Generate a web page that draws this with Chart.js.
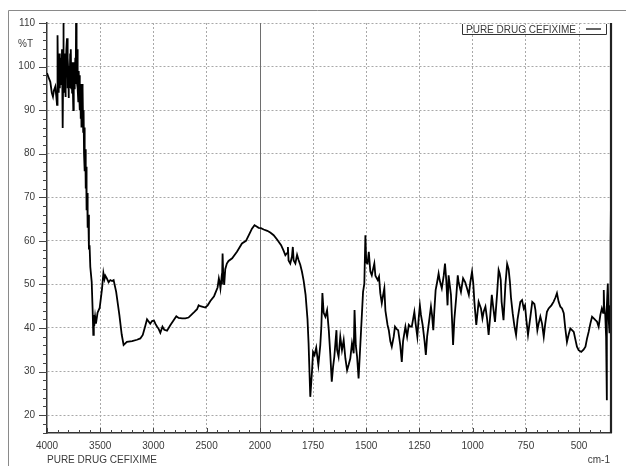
<!DOCTYPE html>
<html>
<head>
<meta charset="utf-8">
<script src="https://cdn.jsdelivr.net/npm/chart.js@4/dist/chart.umd.min.js"></script>
<style>
html,body{margin:0;padding:0;background:#fff;}
#wrap{width:626px;height:466px;position:relative;}
</style>
</head>
<body>
<div id="wrap"><canvas id="c" width="626" height="466"></canvas></div>
<script>
// ---- data ----
const seriesName = "PURE DRUG CEFIXIME";
const wavenumbers = [4000,3985,3969,3955,3944,3935,3922,3912,3906,3902,3900,3896,3892,3888,3885,3881,3878,3874,3870,3866,3862,3859,3856,3852,3850,3848,3846,3843,3840,3836,3834,3830,3828,3825,3822,3818,3812,3809,3806,3803,3800,3797,3794,3791,3788,3785,3782,3778,3775,3771,3768,3764,3760,3756,3753,3750,3747,3744,3741,3738,3734,3730,3727,3724,3720,3717,3714,3710,3706,3702,3698,3694,3690,3686,3683,3680,3676,3671,3667,3664,3660,3656,3652,3648,3644,3640,3636,3632,3628,3622,3618,3612,3606,3600,3593,3580,3571,3565,3560,3556,3548,3540,3525,3505,3483,3470,3460,3452,3440,3421,3405,3389,3374,3350,3320,3298,3280,3249,3200,3154,3123,3100,3076,3060,3045,3030,3013,2995,2982,2965,2951,2935,2915,2898,2872,2840,2810,2785,2763,2730,2700,2670,2637,2615,2590,2575,2559,2512,2490,2465,2430,2397,2385,2378,2370,2362,2356,2350,2345,2335,2325,2310,2294,2260,2215,2168,2130,2100,2074,2050,2030,2011,1995,1982,1965,1951,1935,1919,1900,1888,1880,1872,1868,1865,1857,1849,1845,1841,1833,1825,1818,1810,1802,1794,1785,1776,1771,1763,1755,1750,1743,1735,1725,1716,1711,1706,1700,1692,1684,1676,1669,1662,1656,1650,1645,1640,1637,1630,1622,1614,1606,1598,1590,1583,1575,1567,1559,1555,1549,1543,1536,1525,1515,1509,1504,1500,1494,1488,1481,1474,1468,1462,1457,1446,1440,1434,1427,1421,1415,1410,1400,1394,1387,1380,1371,1365,1358,1350,1340,1333,1327,1316,1308,1300,1293,1286,1280,1274,1268,1260,1254,1248,1243,1235,1226,1220,1214,1202,1196,1191,1185,1180,1174,1167,1160,1155,1145,1136,1130,1124,1118,1113,1108,1102,1097,1092,1086,1077,1070,1066,1055,1045,1035,1026,1018,1011,1003,997,992,983,972,961,954,948,940,932,925,917,910,904,895,885,878,873,868,864,855,846,838,831,825,820,812,804,796,789,776,768,760,754,748,740,729,720,710,705,701,696,690,682,674,666,659,651,643,630,620,611,604,596,588,580,572,565,557,549,541,533,525,518,510,502,490,479,470,463,455,447,439,431,423,416,408,400,393,387,384,382,377,373,370,369,365,361,357,354,352,350];
const transmittance = [98.5,97.5,96.5,94,93.1,94.5,95.4,93,91.2,99,107.2,96,101,94,103,97,95,102,100,96,98,104,96,100,85.9,99,110,97,103,94,103,96,93,101,97,104,106.5,96,95,102,99,92.8,98,100,95,97,103,96,104,95,99,94,101,96,90,99,101,95,100,97,102,96,110,98,103,96,104,95,92,99,94,98,90,96,88,95,86,96,88,95,85,90,80,86,76,81,72,77,67,71,63,66,58,59,54,50.6,44,38.4,43,40.5,42.6,41,43.5,44.6,49,52.6,51.2,52,51.5,50.5,51.0,50.8,51.0,48.3,43,38.5,36.1,36.8,37.0,37.3,37.6,38.4,40.5,42.0,41.5,41.0,41.6,41.7,41,40.3,39.8,38.9,40.3,39.6,39.4,40.7,41.8,42.7,42.3,42.2,42.2,42.4,43.2,43.7,44.3,45.2,45.0,44.7,45.2,46.2,47.3,49.3,51.4,50.6,49.1,51,50,57.1,53,49.9,53.5,54.8,55.4,56.0,57.5,59.4,60.0,61.5,62.8,63.6,63.3,63.0,62.9,62.6,62.3,61.9,61.3,60.3,59.0,57.7,56.7,57.2,58.6,55.5,54.8,56.4,58.6,55.5,54.8,56.8,55.6,54.5,52.9,50.8,47.6,42,36.5,24.2,30,34.5,33.8,35.5,31.5,36,40.3,48.0,43.5,42.6,44.1,39.5,34,27.7,31,33.4,36.5,39.5,35,33.4,38.0,34.9,37.2,33,30.3,31.5,33.0,36.5,34.2,44.1,36,33.4,28.4,38.8,48.3,50.2,61.3,55,54.8,57.5,53,52.1,53.5,54.8,52,51.0,51.8,48,45.7,47.5,49.1,44,40.7,39.5,37,35.7,38,40.3,39.8,39.5,36,32.2,37,40.3,38.0,40.7,40.3,40.3,42,43.7,41,38.0,42,45.2,43,40.7,37,33.8,38,42.6,44.9,43,39.5,44,48.7,50.5,52.5,51,49.1,52,54.8,51,45.2,52.1,50,47.6,42,36.1,42,47.2,52.1,50.5,48.3,51.4,50.5,49,47.6,50.5,52.9,50.2,46,40.7,46.0,44.5,42.2,43.8,44.9,42,38.4,43,47.6,45,41.4,48,53.3,52.5,51.0,46,41.8,50,54.7,53.5,50.6,47,43.4,40.5,38.4,42,46.0,46.4,44.5,45.2,42,38.4,42.5,46.0,45.5,44.1,42,39.5,41,42.6,41,38.0,41,43.7,44.5,45.2,46,47,48.0,46,44.9,44.5,43.4,40,36.8,38.5,39.9,39.5,39.1,37.5,35.7,34.9,34.5,35,35.7,37.5,39.1,41,42.6,42.2,41.8,41.5,40.3,43,44.5,43.5,48.7,45,43.0,38,23.4,45,50.2,42,38.8,45,60,69.4,69];
const xTickLabels = [4000,3500,3000,2500,2000,1750,1500,1250,1000,750,500];
const yTickLabels = [20,30,40,50,60,70,80,90,100,110];
const xAxisUnit = "cm-1";
const yAxisUnit = "%T";

// ---- IR axis: 4000-2000 compressed 2x, 2000-350 expanded ----
const XMAX = 4000, XSPLIT = 2000, XMIN = 350;
function wnToUnit(w){ return w >= XSPLIT ? (XMAX - w) / 2 : (XMAX - XSPLIT) / 2 + (XSPLIT - w); }
const TOTAL = wnToUnit(XMIN);
class IRScale extends Chart.LinearScale {
  getPixelForValue(v){
    if (v === null || v === undefined || isNaN(v)) return NaN;
    return this.getPixelForDecimal(wnToUnit(v) / TOTAL);
  }
  getValueForPixel(px){
    const u = this.getDecimalForPixel(px) * TOTAL;
    return u <= (XMAX - XSPLIT) / 2 ? XMAX - 2 * u : XSPLIT - (u - (XMAX - XSPLIT) / 2);
  }
}
IRScale.id = 'irscale';
IRScale.defaults = Chart.LinearScale.defaults;
Chart.register(IRScale);

const FONT = "'Liberation Sans', Arial, sans-serif";
const TXT = '#3a3a3a';

const decor = {
  id: 'decor',
  beforeDatasetsDraw(chart){
    const {ctx, chartArea:a, scales:{x}} = chart;
    ctx.save();
    const p2000 = x.getPixelForValue(XSPLIT);
    ctx.strokeStyle = '#6e6e6e'; ctx.lineWidth = 1;
    ctx.beginPath(); ctx.moveTo(Math.round(p2000)+0.5, a.top); ctx.lineTo(Math.round(p2000)+0.5, a.bottom); ctx.stroke();
    ctx.restore();
  },
  afterDraw(chart){
    const {ctx, chartArea:a, scales:{x, y}} = chart;
    ctx.save();
    ctx.strokeStyle = '#8a8a8a'; ctx.lineWidth = 1;
    ctx.beginPath(); ctx.moveTo(8.5, 466); ctx.lineTo(8.5, 10.5); ctx.lineTo(626, 10.5); ctx.stroke();
    ctx.strokeStyle = '#222'; ctx.lineWidth = 2.2;
    ctx.beginPath(); ctx.moveTo(a.right, a.top); ctx.lineTo(a.right, a.bottom); ctx.stroke();
    ctx.strokeStyle = '#444'; ctx.lineWidth = 1;
    for (let v = 16; v <= 110; v += 2){
      const py = Math.round(y.getPixelForValue(v)) + 0.5;
      const len = v % 10 === 0 ? 8 : 4;
      ctx.beginPath(); ctx.moveTo(a.left - len, py); ctx.lineTo(a.left, py); ctx.stroke();
    }
    const xt = [];
    for (let w = XMAX; w > XSPLIT; w -= 100) xt.push(w);
    for (let w = XSPLIT; w >= 400; w -= 50) xt.push(w);
    xt.forEach(w => {
      const px = Math.round(x.getPixelForValue(w)) + 0.5;
      const len = xTickLabels.includes(w) ? 5 : 3;
      ctx.beginPath(); ctx.moveTo(px, a.bottom); ctx.lineTo(px, a.bottom - len); ctx.stroke();
    });
    ctx.font = '10px ' + FONT;
    ctx.fillStyle = TXT; ctx.textBaseline = 'alphabetic'; ctx.textAlign = 'left';
    const bx = 462, bw = 144, by = a.top + 1, bh = 10;
    ctx.strokeStyle = '#333'; ctx.lineWidth = 1;
    ctx.beginPath(); ctx.moveTo(bx + 0.5, by); ctx.lineTo(bx + 0.5, by + bh + 0.5); ctx.lineTo(bx + bw + 0.5, by + bh + 0.5); ctx.lineTo(bx + bw + 0.5, by); ctx.stroke();
    ctx.fillText(seriesName, bx + 4, by + 8.5);
    ctx.strokeStyle = '#111'; ctx.lineWidth = 1.3;
    ctx.beginPath(); ctx.moveTo(586, by + 5); ctx.lineTo(601, by + 5); ctx.stroke();
    ctx.fillText(yAxisUnit, 18, 47);
    ctx.fillText(seriesName, a.left, 463);
    ctx.textAlign = 'right';
    ctx.fillText(xAxisUnit, 610, 463);
    ctx.restore();
  }
};

const points = wavenumbers.map((w, i) => ({x: w, y: transmittance[i]}));

new Chart(document.getElementById('c'), {
  type: 'line',
  data: { datasets: [{
    label: seriesName,
    data: points,
    borderColor: '#000',
    borderWidth: 1.8,
    pointRadius: 0,
    tension: 0,
    fill: false
  }]},
  options: {
    responsive: false,
    animation: false,
    events: [],
    layout: { padding: { top: 23, right: 15, left: 0, bottom: 0 } },
    plugins: { legend: { display: false }, tooltip: { enabled: false }, title: { display: false } },
    scales: {
      x: {
        type: 'irscale',
        min: XMIN, max: XMAX,
        afterFit(s){ s.height = 33; },
        afterBuildTicks(s){ s.ticks = xTickLabels.map(v => ({value: v})); },
        ticks: { autoSkip: false, maxRotation: 0, padding: 7, color: TXT, font: { family: FONT, size: 10 },
                 callback: (v) => String(v) },
        grid: { drawTicks: false,
                color: (c) => (c.tick && (c.tick.value === XMAX || c.tick.value === XSPLIT)) ? 'rgba(0,0,0,0)' : '#a8a8a8',
                lineWidth: 1 },
        border: { display: true, color: '#333', width: 1.5, dash: [2, 2] }
      },
      y: {
        type: 'linear',
        min: 15.9, max: 110,
        afterFit(s){ s.width = 47; },
        afterBuildTicks(s){ s.ticks = yTickLabels.map(v => ({value: v})); },
        ticks: { padding: 12, color: TXT, font: { family: FONT, size: 10 }, callback: (v) => String(v) },
        grid: { drawTicks: false, color: '#a8a8a8', lineWidth: 1 },
        border: { display: true, color: '#333', width: 1.5, dash: [2, 2] }
      }
    }
  },
  plugins: [decor]
});
</script>
</body>
</html>
